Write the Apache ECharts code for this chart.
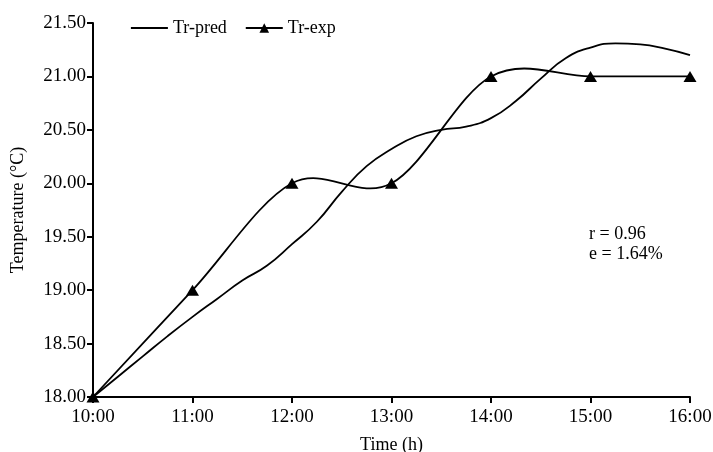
<!DOCTYPE html>
<html>
<head>
<meta charset="utf-8">
<script src="https://cdn.jsdelivr.net/npm/echarts@6/dist/echarts.min.js"></script>
<style>html,body{margin:0;padding:0;background:#fff}#c{width:713px;height:452px}</style>
</head>
<body>
<div id="c"></div>
<script>
// Experimental readings (hourly)
const expTime = [10, 11, 12, 13, 14, 15, 16];
const expTemp = [18.00, 19.00, 20.00, 20.00, 21.00, 21.00, 21.00];
// Predicted curve (read every 15 minutes)
const predTime = [10.00, 10.25, 10.50, 10.75, 11.00, 11.25, 11.50, 11.75, 12.00, 12.25, 12.50, 12.75, 13.00, 13.25, 13.50, 13.75, 14.00, 14.25, 14.50, 14.75, 15.00, 15.25, 15.50, 15.75, 16.00];
const predTemp = [18.00, 18.19, 18.38, 18.57, 18.75, 18.92, 19.09, 19.23, 19.43, 19.64, 19.92, 20.16, 20.32, 20.44, 20.50, 20.53, 20.61, 20.77, 20.98, 21.17, 21.27, 21.31, 21.30, 21.26, 21.20];
const yTicks = ['18.00','18.50','19.00','19.50','20.00','20.50','21.00','21.50'];
const xTicks = ['10:00','11:00','12:00','13:00','14:00','15:00','16:00'];
const seriesNames = ['Tr-pred', 'Tr-exp'];
const stats = ['r = 0.96', 'e = 1.64%'];

const FONT = '"Liberation Serif", "Times New Roman", serif';
const LINE_W = 1.8;

// Catmull-Rom spline through the experimental points, drawn via the axes' scales
function renderExpCurve(params, api) {
  if (params.dataIndex !== 0) return null;
  const p = expTime.map((t, i) => api.coord([t, expTemp[i]]));
  const n = p.length;
  let d = 'M' + p[0][0] + ',' + p[0][1];
  for (let i = 0; i < n - 1; i++) {
    const p0 = p[Math.max(0, i - 1)], p1 = p[i], p2 = p[i + 1], p3 = p[Math.min(n - 1, i + 2)];
    const c1 = [p1[0] + (p2[0] - p0[0]) / 6, p1[1] + (p2[1] - p0[1]) / 6];
    const c2 = [p2[0] - (p3[0] - p1[0]) / 6, p2[1] - (p3[1] - p1[1]) / 6];
    d += 'C' + c1[0] + ',' + c1[1] + ' ' + c2[0] + ',' + c2[1] + ' ' + p2[0] + ',' + p2[1];
  }
  return {
    type: 'path',
    shape: {pathData: d},
    style: {fill: null, stroke: '#000', lineWidth: LINE_W}
  };
}

const chart = echarts.init(document.getElementById('c'), null, {renderer: 'canvas'});
chart.setOption({
  animation: false,
  backgroundColor: '#fff',
  textStyle: {fontFamily: FONT, color: '#000'},
  grid: {left: 93, right: 23, top: 23, bottom: 55, containLabel: false, outerBoundsMode: 'none'},
  legend: {
    left: 125, top: 14,
    itemWidth: 37, itemHeight: 12, itemGap: 18,
    textStyle: {fontFamily: FONT, fontSize: 18, color: '#000'},
    data: [
      {name: seriesNames[0], itemStyle: {opacity: 0}, lineStyle: {color: '#000', width: LINE_W, opacity: 1}},
      {name: seriesNames[1], itemStyle: {color: '#000', opacity: 1}, lineStyle: {color: '#000', width: LINE_W, opacity: 1}}
    ]
  },
  xAxis: {
    type: 'value', min: 10, max: 16, interval: 1,
    name: 'Time (h)', nameLocation: 'middle', nameGap: 39,
    nameTextStyle: {fontFamily: FONT, fontSize: 18, color: '#000'},
    axisLine: {lineStyle: {color: '#000', width: 2}},
    axisTick: {show: true, inside: false, length: 6, lineStyle: {color: '#000', width: 2}},
    axisLabel: {fontFamily: FONT, fontSize: 19, color: '#000', margin: 11,
      formatter: v => xTicks[Math.round(v - 10)]},
    splitLine: {show: false}
  },
  yAxis: {
    type: 'value', min: 18, max: 21.5, interval: 0.5,
    name: 'Temperature (°C)', nameLocation: 'middle', nameGap: 66,
    nameTextStyle: {fontFamily: FONT, fontSize: 18, color: '#000'},
    axisLine: {show: true, lineStyle: {color: '#000', width: 2}},
    axisTick: {show: true, inside: false, length: 6, lineStyle: {color: '#000', width: 2}},
    axisLabel: {fontFamily: FONT, fontSize: 19, color: '#000', margin: 7,
      formatter: v => yTicks[Math.round((v - 18) / 0.5)]},
    splitLine: {show: false}
  },
  series: [
    {
      name: seriesNames[0], type: 'line', smooth: 0.5,
      symbol: 'none', showSymbol: false,
      lineStyle: {color: '#000', width: LINE_W},
      itemStyle: {color: '#000'},
      data: predTime.map((t, i) => [t, predTemp[i]])
    },
    {
      name: 'Tr-exp-curve', type: 'custom', silent: true,
      renderItem: renderExpCurve,
      encode: {x: 0, y: 1},
      data: expTime.map((t, i) => [t, expTemp[i]]),
      z: 2
    },
    {
      name: seriesNames[1], type: 'line',
      symbol: 'triangle', symbolSize: [13, 11],
      lineStyle: {color: '#000', width: LINE_W, opacity: 0},
      itemStyle: {color: '#000'},
      data: expTime.map((t, i) => [t, expTemp[i]]),
      z: 3
    }
  ],
  graphic: [{
    type: 'text', left: 589, top: 224,
    style: {text: stats.join('\n'), font: '18px ' + FONT, fill: '#000', lineHeight: 20}
  }]
});
</script>
</body>
</html>
